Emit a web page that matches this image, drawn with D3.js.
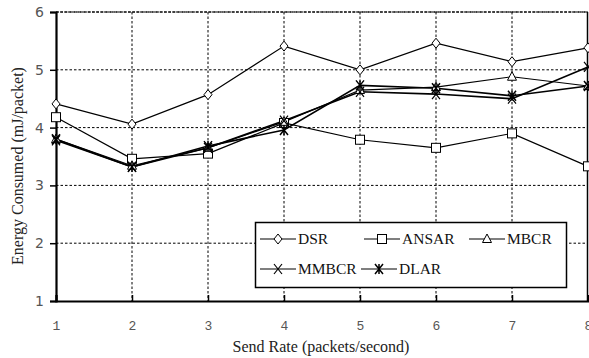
<!DOCTYPE html>
<html lang="en">
<head>
<meta charset="UTF-8">
<title>Energy Consumed</title>
<style>
    body { margin: 0; background: #fff; }
    svg { display: block; }
    .grid line { stroke: #000; stroke-width: 1; stroke-dasharray: 2.5,2; }
    .ytick text { font: 14px "DejaVu Sans", sans-serif; fill: #555; }
    .xtick text { font: 13px "Liberation Mono", monospace; fill: #555; }
    .title { font: 16px "Liberation Serif", serif; fill: #222; }
    .legend text { font: 15.5px "Liberation Serif", serif; fill: #111; }
</style>
</head>
<body>
<script src="https://cdnjs.cloudflare.com/ajax/libs/d3/7.8.5/d3.min.js"></script>
<script>
    var sendRates = [1, 2, 3, 4, 5, 6, 7, 8];
    var yTicks = [1, 2, 3, 4, 5, 6];

    var dsr   = [4.41, 4.06, 4.57, 5.41, 5.00, 5.46, 5.14, 5.38];
    var ansar = [4.18, 3.46, 3.55, 4.08, 3.79, 3.65, 3.90, 3.33];
    var mbcr  = [3.80, 3.34, 3.65, 4.10, 4.65, 4.70, 4.88, 4.72];
    var mmbcr = [3.78, 3.32, 3.65, 4.12, 4.62, 4.58, 4.50, 5.05];
    var dlar  = [3.80, 3.32, 3.68, 3.96, 4.73, 4.68, 4.55, 4.72];

    var seriesNames = ["DSR", "ANSAR", "MBCR", "MMBCR", "DLAR"];
    var seriesData = [dsr, ansar, mbcr, mmbcr, dlar];
    var markers = ["diamond", "square", "triangle", "x", "asterisk"];

    var width = 589, height = 358;
    var plotL = 56, plotR = 588, plotT = 12, plotB = 301;

    var svg = d3.select("body").append("svg")
        .attr("width", width)
        .attr("height", height);

    var x = d3.scaleLinear().domain([1, 8]).range([plotL, plotR]);
    var y = d3.scaleLinear().domain([1, 6]).range([plotB, plotT]);

    // grid
    var grid = svg.append("g").attr("class", "grid");
    grid.selectAll(".gx").data(sendRates.slice(1, 7)).enter().append("line")
        .attr("x1", d => x(d)).attr("x2", d => x(d))
        .attr("y1", plotT).attr("y2", plotB);
    grid.selectAll(".gy").data(yTicks.slice(1)).enter().append("line")
        .attr("x1", plotL).attr("x2", plotR)
        .attr("y1", d => y(d)).attr("y2", d => y(d));

    // right border
    svg.append("line")
        .attr("x1", plotR - 0.5).attr("x2", plotR - 0.5)
        .attr("y1", plotT).attr("y2", plotB)
        .attr("stroke", "#000").attr("stroke-width", 1.5);

    // y axis
    var yAxis = d3.axisLeft(y).tickValues(yTicks).tickSize(6).tickPadding(6)
        .tickFormat(d3.format("d"));
    svg.append("g")
        .attr("class", "ytick")
        .attr("transform", "translate(" + plotL + ",0)")
        .call(yAxis)
        .call(g => g.select(".domain").attr("stroke-width", 2.2))
        .call(g => g.selectAll(".tick line").attr("stroke-width", 1.5));

    // x axis (ticks inside)
    var xAxis = d3.axisBottom(x).tickValues(sendRates).tickSize(-6).tickPadding(20)
        .tickFormat(d3.format("d"));
    svg.append("g")
        .attr("class", "xtick")
        .attr("transform", "translate(0," + plotB + ")")
        .call(xAxis)
        .call(g => g.select(".domain").attr("stroke-width", 2.2))
        .call(g => g.selectAll(".tick line").attr("stroke-width", 1.5));

    function drawMarker(g, type, cx, cy) {
        if (type === "diamond") {
            g.append("path").attr("d", "M" + cx + "," + (cy - 5) + "L" + (cx + 4) + "," + cy + "L" + cx + "," + (cy + 5) + "L" + (cx - 4) + "," + cy + "Z")
                .attr("fill", "#fff").attr("stroke", "#000").attr("stroke-width", 1);
        } else if (type === "square") {
            g.append("rect").attr("x", cx - 4.5).attr("y", cy - 4.5).attr("width", 9).attr("height", 9)
                .attr("fill", "#fff").attr("stroke", "#000").attr("stroke-width", 1);
        } else if (type === "triangle") {
            g.append("path").attr("d", "M" + cx + "," + (cy - 5) + "L" + (cx + 4.5) + "," + (cy + 3.5) + "L" + (cx - 4.5) + "," + (cy + 3.5) + "Z")
                .attr("fill", "#fff").attr("stroke", "#000").attr("stroke-width", 1);
        } else if (type === "x") {
            g.append("path").attr("d", "M" + (cx - 4) + "," + (cy - 5) + "L" + (cx + 4) + "," + (cy + 5) + "M" + (cx + 4) + "," + (cy - 5) + "L" + (cx - 4) + "," + (cy + 5))
                .attr("stroke", "#000").attr("stroke-width", 1.2);
        } else {
            g.append("path").attr("d", "M" + (cx - 4) + "," + (cy - 5) + "L" + (cx + 4) + "," + (cy + 5) + "M" + (cx + 4) + "," + (cy - 5) + "L" + (cx - 4) + "," + (cy + 5) + "M" + cx + "," + (cy - 5) + "L" + cx + "," + (cy + 5))
                .attr("stroke", "#000").attr("stroke-width", 1.5);
        }
    }

    var line = d3.line()
        .x((d, i) => x(sendRates[i]))
        .y(d => y(d));

    var plot = svg.append("g");
    seriesData.forEach(function(vals, k) {
        plot.append("path")
            .datum(vals)
            .attr("fill", "none")
            .attr("stroke", "#000")
            .attr("stroke-width", k >= 3 ? 1.6 : 1.2)
            .attr("d", line);
    });
    seriesData.forEach(function(vals, k) {
        var mg = plot.append("g");
        vals.forEach(function(v, i) {
            drawMarker(mg, markers[k], x(sendRates[i]), y(v));
        });
    });

    // top dashed border
    svg.append("line")
        .attr("x1", plotL).attr("x2", plotR)
        .attr("y1", plotT).attr("y2", plotT)
        .attr("stroke", "#000").attr("stroke-width", 1.2)
        .attr("stroke-dasharray", "3,1");

    // legend
    var lg = svg.append("g").attr("class", "legend");
    lg.append("rect")
        .attr("x", 255.5).attr("y", 222.5).attr("width", 311).attr("height", 65)
        .attr("fill", "#fff").attr("stroke", "#000").attr("stroke-width", 1.5);
    var legendPos = [[260, 239], [364, 239], [469, 239], [260, 269], [361, 269]];
    seriesNames.forEach(function(name, k) {
        var p = legendPos[k];
        lg.append("line")
            .attr("x1", p[0]).attr("x2", p[0] + 36)
            .attr("y1", p[1]).attr("y2", p[1])
            .attr("stroke", "#000").attr("stroke-width", 1.2);
        drawMarker(lg, markers[k], p[0] + 18, p[1]);
        lg.append("text")
            .attr("x", p[0] + 38).attr("y", p[1] + 5)
            .text(name);
    });

    // axis titles
    svg.append("text")
        .attr("class", "title")
        .attr("text-anchor", "middle")
        .attr("x", 321).attr("y", 352)
        .text("Send Rate (packets/second)");

    svg.append("text")
        .attr("class", "title")
        .attr("text-anchor", "middle")
        .attr("transform", "translate(23,166) rotate(-90)")
        .text("Energy Consumed (mJ/packet)");
</script>
</body>
</html>
